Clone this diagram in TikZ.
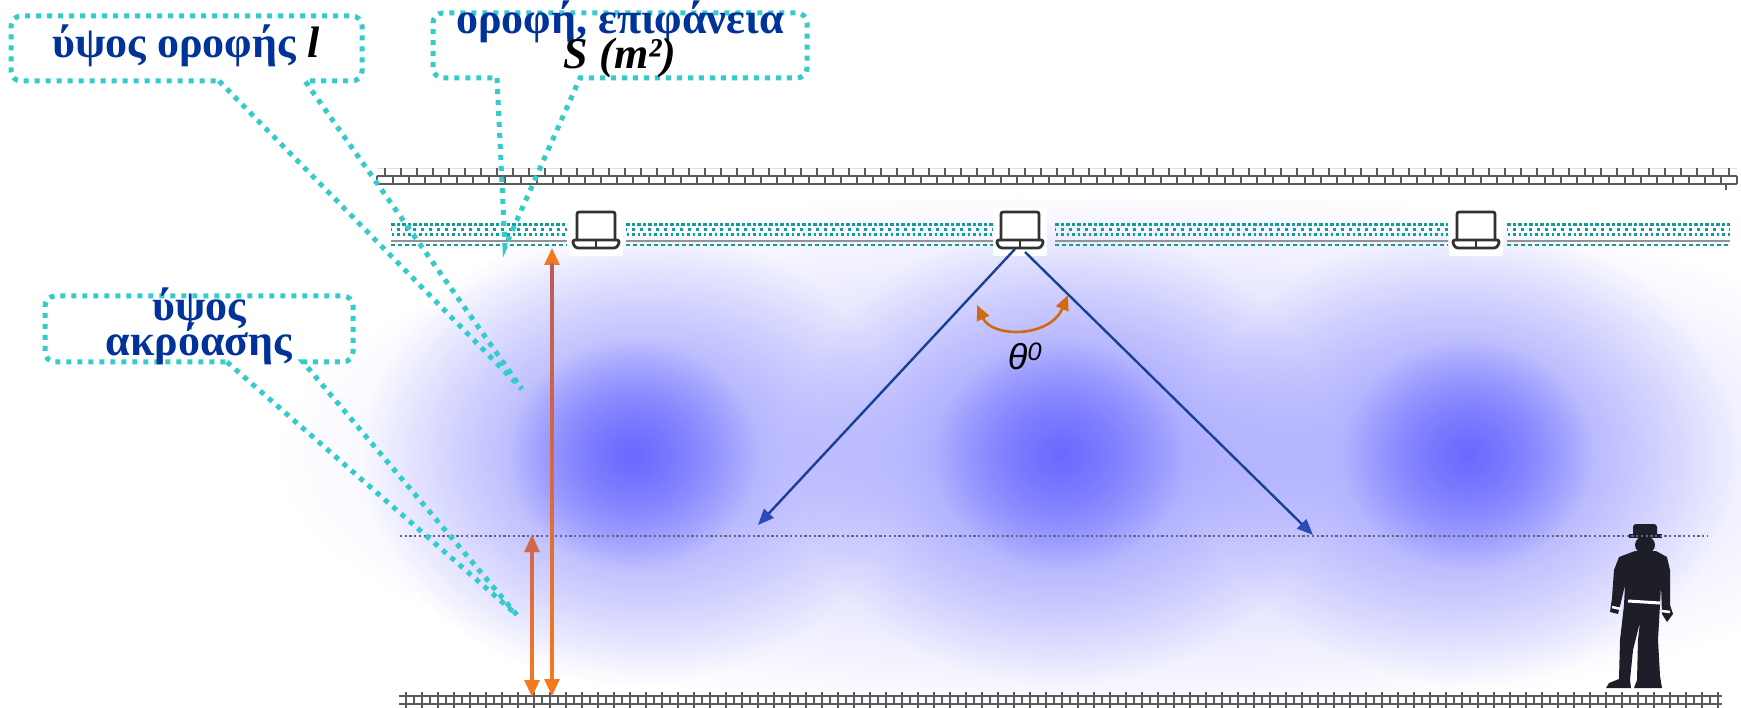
\documentclass[tikz,border=0pt]{standalone}
\usepackage{fontspec}
\setmainfont{Liberation Serif}
\newfontfamily\labelsans{Liberation Sans}
\usetikzlibrary{arrows.meta,fadings}

\definecolor{calloutteal}{RGB}{51,204,204}
\definecolor{textblue}{RGB}{0,51,153}
\definecolor{tileteal}{RGB}{17,157,157}
\definecolor{wallgray}{RGB}{90,90,90}
\definecolor{beamblue}{RGB}{28,63,148}
\definecolor{beamtip}{RGB}{40,75,190}
\definecolor{arcorange}{RGB}{208,106,14}
\definecolor{hazeblue}{RGB}{105,105,255}
\definecolor{hazepale}{RGB}{196,196,255}
\definecolor{arrowtop}{RGB}{184,92,92}
\definecolor{arrowmid}{RGB}{208,104,80}
\definecolor{arroworange}{RGB}{245,120,32}
\definecolor{figuredark}{RGB}{30,30,40}
\definecolor{listengray}{RGB}{100,100,135}
\definecolor{iconink}{RGB}{50,50,50}

\tikzfading[name=glowfade, inner color=transparent!0, outer color=transparent!100]

\tikzset{
  callout/.style={draw=calloutteal, line width=5pt, dash pattern=on 5pt off 6pt},
  greek/.style={text=textblue, font=\fontsize{44}{33}\selectfont\bfseries, inner sep=0pt, anchor=base},
  wall/.style={draw=wallgray, line width=1.6pt},
  tile/.style={draw=tileteal, line width=3pt},
  speakerbg/.style={fill=white, draw=none, minimum width=54pt, minimum height=48pt, inner sep=0pt},
  icon/.style={draw=iconink, line width=2.8pt, line join=round},
  beam/.style={draw=beamblue, line width=2.4pt, -{Triangle[length=16pt, width=13pt, color=beamtip]}},
  anglearc/.style={draw=arcorange, line width=2.6pt, {Triangle[length=15pt, width=13pt]}-{Triangle[length=15pt, width=13pt]}},
  heightarrow/.style={line width=2.8pt, {Triangle[length=17pt, width=15pt]}-{Triangle[length=17pt, width=15pt]}},
  listen/.style={draw=listengray, line width=2.2pt, dash pattern=on 2.3pt off 2.4pt},
}

\begin{document}
\begin{tikzpicture}[x=1pt,y=-1pt]
\useasboundingbox (0,0) rectangle (1741,708);
\fill[white] (0,0) rectangle (1741,708);

% lavender haze of the sound field
\begin{scope}
  \clip (0,200) rectangle (1741,700);
  \fill[hazepale, path fading=glowfade] (1110,455) ellipse [x radius=830pt, y radius=270pt];
  \foreach \x in {633,1060,1468} {
    \fill[hazeblue!70, path fading=glowfade] (\x,455) ellipse [x radius=270pt, y radius=230pt];
    \fill[hazeblue, path fading=glowfade] (\x,455) ellipse [x radius=125pt, y radius=115pt];
  }
\end{scope}

% ceiling slab (brick hatching)
\draw[gray!25, line width=0.8pt] (377,168) -- (1737,168);
\draw[wall] (377,176) -- (1737,176);
\draw[wall] (377,184) -- (1737,184);
\foreach \x in {385,401,...,1737} \draw[wall] (\x,168) -- (\x,176);
\foreach \x in {377,393,...,1737} \draw[wall] (\x,176) -- (\x,184);
\draw[wall] (1726,184) -- (1726,190);

% floor slab
\draw[wall] (399,696) -- (1722,696);
\draw[wall] (399,704) -- (1722,704);
\foreach \x in {406,422,...,1722} \draw[wall] (\x,692) -- (\x,708);
\foreach \x in {414,430,...,1722} \draw[wall] (\x,696) -- (\x,704);

% suspended ceiling tiles
\foreach \a/\b in {391/567, 626/995, 1055/1448, 1507/1730} {
  \draw[tile, dash pattern=on 4pt off 2pt on 2.5pt off 2.5pt] (\a,225) -- (\b,225);
  \draw[tile, dash pattern=on 3pt off 5pt, dash phase=2pt] (\a,230) -- (\b,230);
  \draw[tile, dash pattern=on 3pt off 2.5pt on 2.5pt off 3pt, dash phase=5pt] (\a,235) -- (\b,235);
  \draw[gray!85, line width=2pt] (\a,241) -- (\b,241);
  \draw[tile, line width=2pt, dash pattern=on 4pt off 3pt] (\a,245) -- (\b,245);
}

% ceiling loudspeakers
\foreach \n/\x in {spk1/596, spk2/1020, spk3/1476} {
  \node[speakerbg] (\n) at (\x,232) {};
  \begin{scope}[shift={(\n.center)}]
    \draw[icon, rounded corners=2pt] (-19,8) -- (-19,-20) -- (19,-20) -- (19,8);
    \draw[icon, rounded corners=3pt] (-24,8) -- (24,8) -- (21,16) -- (-21,16) -- cycle;
    \draw[icon, line width=2.2pt] (0,8) -- (0,16);
  \end{scope}
}

% listener silhouette
\begin{scope}[fill=figuredark]
  \fill[rounded corners=3pt] (1633,537) rectangle (1657,524);
  \fill (1629,534) rectangle (1662,538);
  \fill (1645,545) ellipse [x radius=10pt, y radius=9pt];
  \fill (1635,551) -- (1656,551) -- (1667,557) -- (1670,570) -- (1670,605) -- (1673,614)
    -- (1667,622) -- (1662,614) -- (1661,585) -- (1660,605) -- (1658,640) -- (1660,676)
    -- (1662,688) -- (1634,688) -- (1637,680) -- (1638,640) -- (1640,622) -- (1633,650)
    -- (1630,680) -- (1631,688) -- (1606,688) -- (1609,683) -- (1619,679) -- (1620,640)
    -- (1624,605) -- (1625,585) -- (1621,602) -- (1618,614) -- (1610,612) -- (1612,598)
    -- (1614,570) -- (1619,557) -- cycle;
\end{scope}
\draw[white, line width=3pt] (1628,601) -- (1660,603);
\draw[white, line width=2.5pt] (1612,607) -- (1621,609);
\draw[white, line width=2.5pt] (1662,611) -- (1670,612);

% listening plane
\coordinate (listenL) at (400,536);
\coordinate (listenR) at (1708,536);
\draw[listen] (listenL) -- (listenR);

% coverage cone of the middle speaker
\coordinate (beamL0) at (1015,249);
\coordinate (beamL1) at (758,525);
\coordinate (beamR0) at (1025,252);
\coordinate (beamR1) at (1313,535);
\draw[beam] (beamL0) -- (beamL1);
\draw[beam] (beamR0) -- (beamR1);

\coordinate (arcL) at (977,305);
\coordinate (arcR) at (1068,295);
\draw[anglearc] (arcL) .. controls (992,338) and (1050,338) .. (arcR);
\node[font=\labelsans\itshape\fontsize{36}{36}\selectfont, inner sep=0pt] (theta) at (1025,356) {θ\textsuperscript{0}};

% ceiling height and listening height
\coordinate (ceilTop) at (552,248);
\coordinate (ceilBot) at (552,696);
\coordinate (earTop) at (532,535);
\coordinate (earBot) at (532,697);
\draw[heightarrow, arroworange] (ceilTop) -- (ceilBot);
\shade[top color=arrowtop, bottom color=arroworange] (550.6,264) rectangle (553.4,680);
\draw[heightarrow, arroworange] (earTop) -- (earBot);
\fill[arrowmid] (earTop) -- (524.5,552) -- (539.5,552) -- cycle;
\shade[top color=arrowmid, bottom color=arroworange] (530.6,551) rectangle (533.4,681);

% callouts
\draw[callout] (219,81) -- (522,389) -- (305,81) [rounded corners=10pt] -- (362,81) -- (362,16) -- (11,16) -- (11,81) [sharp corners] -- (219,81);
\node[greek] (ceilingheight) at (186,58) {ύψος οροφής \textcolor{black}{\itshape l}};

\draw[callout] (497,78) -- (505,247) -- (580,78) [rounded corners=10pt] -- (807,78) -- (807,13) -- (433,13) -- (433,78) [sharp corners] -- (497,78);
\node[greek] (ceilingarea) at (620,34) {οροφή, επιφάνεια};
\node[greek, text=black] (areaunit) at (620,69) {\itshape S (m²)};

\draw[callout] (227,362) -- (517,615) -- (303,362) [rounded corners=10pt] -- (353,362) -- (353,296) -- (45,296) -- (45,362) [sharp corners] -- (227,362);
\node[greek] (listenword1) at (199,321) {ύψος};
\node[greek] (listenword2) at (199,356) {ακρόασης};
\end{tikzpicture}
\end{document}
